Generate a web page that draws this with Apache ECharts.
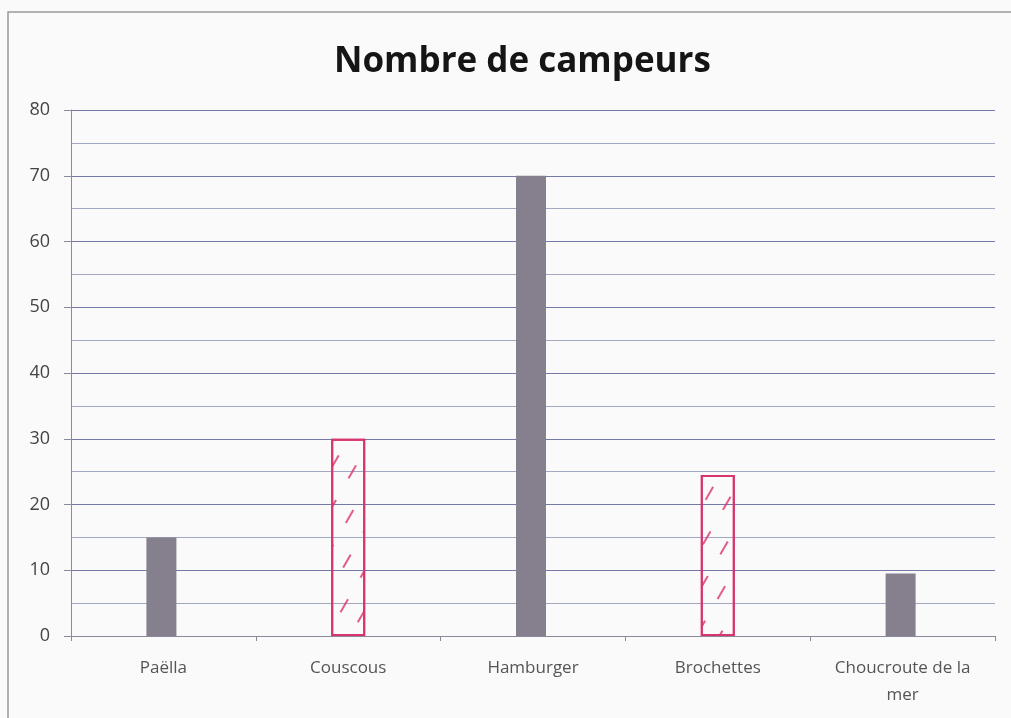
<!DOCTYPE html>
<html><head><meta charset="utf-8">
<script src="https://cdn.jsdelivr.net/npm/echarts@6/dist/echarts.min.js"></script>
<style>html,body{margin:0;padding:0;background:#fafafa}#c{width:1011px;height:718px}</style>
</head><body><div id="c"></div>
<script>
const categories = ['Paëlla', 'Couscous', 'Hamburger', 'Brochettes', 'Choucroute de la\nmer'];
const filledValues = [15, null, 70, null, 9.5];
const drawnValues = [null, 30, null, 24.5, null];
const yTicks = [0, 10, 20, 30, 40, 50, 60, 70, 80];

const chart = echarts.init(document.getElementById('c'));
chart.setOption({
  backgroundColor: '#fafafa',
  animation: false,
  title: {
    text: 'Nombre de campeurs', left: 329, top: 40,
    textStyle: { fontFamily: 'Open Sans', fontWeight: 'bold', fontSize: 35, color: '#151515' }
  },
  graphic: [{
    type: 'rect', shape: { x: 8, y: 12, width: 1011, height: 720 },
    style: { fill: 'none', stroke: '#9a9a9a', lineWidth: 1.5 }, silent: true
  }],
  grid: { left: 71, right: 16, top: 110, bottom: 82 },
  xAxis: {
    type: 'category', data: categories,
    axisLine: { lineStyle: { color: '#8a8a9a', width: 1 } },
    axisTick: { show: true, length: 5, lineStyle: { color: '#8a8a9a' } },
    axisLabel: { interval: 0, color: '#555', fontSize: 17, fontFamily: 'Open Sans', margin: 19, lineHeight: 27 }
  },
  yAxis: {
    type: 'value', min: 0, max: 80, interval: 10,
    axisLine: { show: true, lineStyle: { color: '#8a8a9a' } },
    axisTick: { show: true, length: 7, lineStyle: { color: '#8a8a9a' } },
    axisLabel: { color: '#444', fontSize: 18, fontFamily: 'Open Sans', margin: 21,
      formatter: v => yTicks.includes(v) ? String(v) : '' },
    splitLine: { lineStyle: { color: '#7479a8', width: 1.2 } },
    minorTick: { show: false, splitNumber: 2 },
    minorSplitLine: { show: true, lineStyle: { color: '#a3a8c2', width: 1 } }
  },
  series: [
    {
      type: 'bar', data: filledValues, barWidth: 30, barGap: '-100%',
      itemStyle: { color: '#867f8d' }
    },
    {
      type: 'bar', data: drawnValues, barWidth: 34, barGap: '-100%',
      itemStyle: {
        color: 'rgba(255,255,255,0)', borderColor: '#d8356f', borderWidth: 2,
        decal: { symbol: 'rect', color: 'rgba(216,53,111,0.8)', backgroundColor: 'rgba(0,0,0,0)',
          dashArrayX: [15, 25], dashArrayY: [2, 18], rotation: -Math.PI / 3, symbolSize: 1 }
      }
    }
  ]
});
</script></body></html>
